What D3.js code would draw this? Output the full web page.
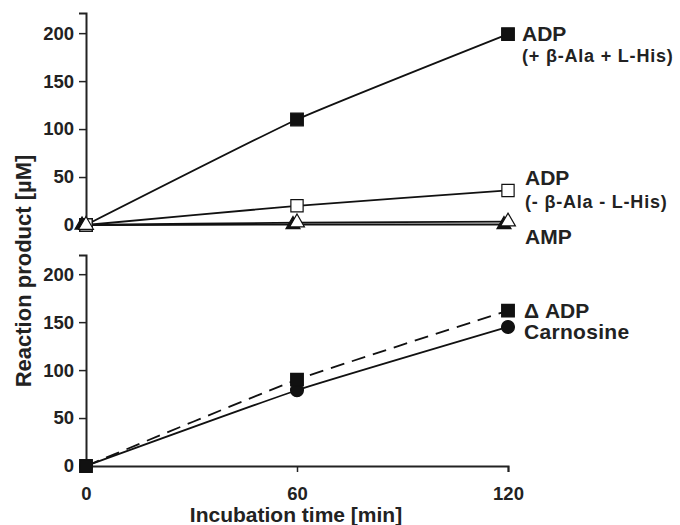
<!DOCTYPE html>
<html>
<head>
<meta charset="utf-8">
<script src="https://cdn.jsdelivr.net/npm/d3@7"></script>
<style>
  body { margin: 0; background: #fff; }
  text { font-family: "Liberation Sans", Arial, sans-serif; font-weight: bold; fill: #222; }
</style>
</head>
<body>
<script>
// Chart dimension
const width = 680;
const height = 525;

// Data
const times = [0, 60, 120];
const adpPlus = [0, 110, 199];
const adpMinus = [0, 20, 36];
const ampOpen = [0, 2.5, 3.5];
const ampFilled = [0, 0.5, 0.5];
const deltaAdp = [0, 90, 162];
const carnosine = [0, 79, 145];
const yTicks = [0, 50, 100, 150, 200];
const xTicks = [0, 60, 120];

const svg = d3.select("body")
    .append("svg")
    .attr("width", width)
    .attr("height", height);

// Scales
const x = d3.scaleLinear().domain([0, 120]).range([86, 508]);
const yTop = d3.scaleLinear().domain([0, 221]).range([225, 13]);
const yBot = d3.scaleLinear().domain([0, 220]).range([466, 255]);

// Axes
function yAxis(scale) {
    return d3.axisLeft(scale).tickValues(yTicks).tickSize(7).tickPadding(5);
}
const gTopAxis = svg.append("g")
    .attr("transform", "translate(86,0)")
    .call(yAxis(yTop));
const gBotAxis = svg.append("g")
    .attr("transform", "translate(86,0)")
    .call(yAxis(yBot));
const gX = svg.append("g")
    .attr("transform", "translate(0,466)")
    .call(d3.axisBottom(x).tickValues(xTicks).tickSize(6).tickPadding(15));

[gTopAxis, gBotAxis, gX].forEach(g => {
    g.select(".domain").attr("stroke", "#222").attr("stroke-width", 2);
    g.selectAll(".tick line").attr("stroke", "#222").attr("stroke-width", 1.5);
    g.selectAll(".tick text")
        .style("font-family", "Liberation Sans, Arial, sans-serif")
        .style("font-weight", "bold")
        .style("font-size", "18.5px")
        .attr("fill", "#222");
});
gX.select(".tick line").remove();

// Line generator
function lineFor(yScale) {
    return d3.line()
        .x((d, i) => x(times[i]))
        .y(d => yScale(d))
        .curve(d3.curveCardinal.tension(0.6));
}

function drawLine(values, yScale, dash) {
    svg.append("path")
        .datum(values)
        .attr("d", lineFor(yScale))
        .attr("fill", "none")
        .attr("stroke", "#111")
        .attr("stroke-width", 1.8)
        .attr("stroke-dasharray", dash);
}

function drawMarkers(values, yScale, symbol, size, fill, dx) {
    svg.selectAll(null)
        .data(values)
        .enter()
        .append("path")
        .attr("d", d3.symbol().type(symbol).size(size))
        .attr("transform", (d, i) => `translate(${x(times[i]) + dx},${yScale(d)})`)
        .attr("fill", fill)
        .attr("stroke", "#111")
        .attr("stroke-width", 1.2);
}

// Top panel
drawLine(ampFilled, yTop, null);
drawLine(ampOpen, yTop, null);
drawLine(adpMinus, yTop, null);
drawLine(adpPlus, yTop, null);
drawMarkers(adpPlus, yTop, d3.symbolSquare, 160, "#111", 0);
drawMarkers(adpMinus, yTop, d3.symbolSquare, 150, "#fff", 0);
drawMarkers(ampFilled, yTop, d3.symbolTriangle, 85, "#111", -4);
drawMarkers(ampOpen, yTop, d3.symbolTriangle, 95, "#fff", 0);

// Bottom panel
drawLine(carnosine, yBot, null);
drawLine(deltaAdp, yBot, "14,8");
drawMarkers(carnosine, yBot, d3.symbolCircle, 130, "#111", 0);
drawMarkers(deltaAdp, yBot, d3.symbolSquare, 160, "#111", 0);

// Series labels
const labels = [
    { t: "ADP", x: 522, y: 41, s: 21, ls: 0 },
    { t: "(+ β-Ala + L-His)", x: 522, y: 62, s: 18, ls: 0.8 },
    { t: "ADP", x: 525, y: 185, s: 21, ls: 0 },
    { t: "(- β-Ala - L-His)", x: 525, y: 208, s: 18, ls: 0.8 },
    { t: "AMP", x: 525, y: 244, s: 21, ls: 0 },
    { t: "Δ ADP", x: 524, y: 318, s: 21, ls: 0 },
    { t: "Carnosine", x: 524, y: 339, s: 21, ls: 0.3 }
];
svg.selectAll(".series-label")
    .data(labels)
    .enter()
    .append("text")
    .attr("class", "series-label")
    .attr("x", d => d.x)
    .attr("y", d => d.y)
    .style("font-size", d => d.s + "px")
    .style("letter-spacing", d => d.ls + "px")
    .text(d => d.t);

// Axis titles
svg.append("text")
    .attr("x", 296)
    .attr("y", 522)
    .attr("text-anchor", "middle")
    .style("font-size", "21px")
    .text("Incubation time [min]");

svg.append("text")
    .attr("transform", "rotate(-90)")
    .attr("x", -271)
    .attr("y", 31)
    .attr("text-anchor", "middle")
    .style("font-size", "22px")
    .text("Reaction product [µM]");
</script>
</body>
</html>
